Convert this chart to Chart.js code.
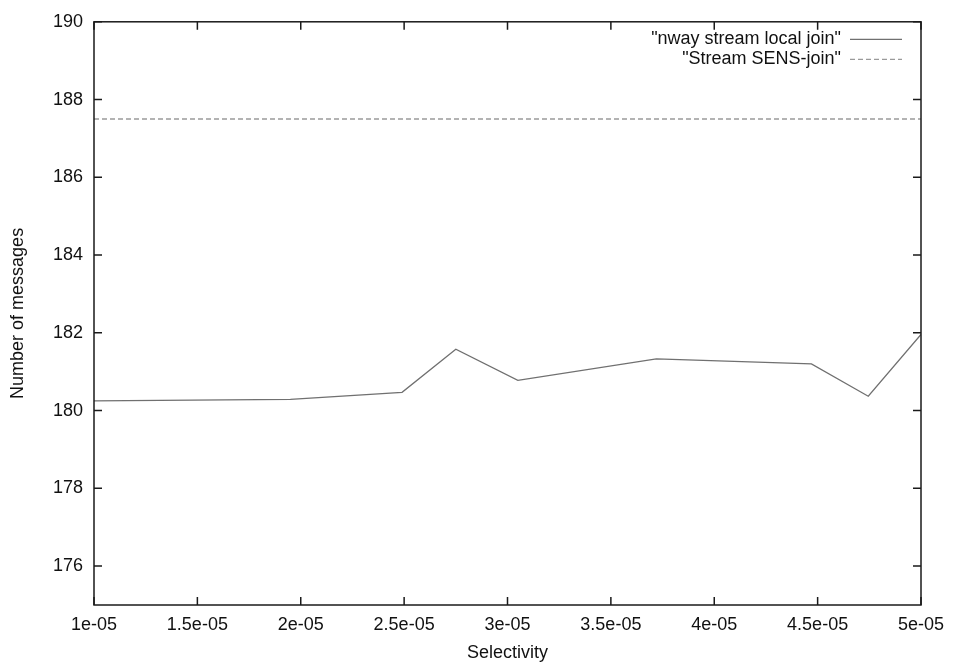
<!DOCTYPE html>
<html>
<head>
<meta charset="utf-8">
<script src="https://cdn.jsdelivr.net/npm/chart.js@4/dist/chart.umd.min.js"></script>
<style>
  html, body { margin: 0; padding: 0; background: #fff; }
  #wrap { width: 954px; height: 666px; }
</style>
</head>
<body>
<div id="wrap"><canvas id="c" width="954" height="666"></canvas></div>
<script>
// Selectivity values and message counts for the n-way local join
const selectivity = [1.0e-05, 1.95e-05, 2.49e-05, 2.75e-05, 3.05e-05, 3.72e-05, 4.47e-05, 4.745e-05, 5.0e-05];
const nwayMessages = [180.25, 180.29, 180.47, 181.58, 180.78, 181.33, 181.2, 180.37, 181.96];

// SENS-join reference level
const sensSelectivity = [1.0e-05, 5.0e-05];
const sensMessages = [187.5, 187.5];

const seriesNames = ['"nway stream local join"', '"Stream SENS-join"'];

// Axis ticks
const xTickValues = [1.0e-05, 1.5e-05, 2.0e-05, 2.5e-05, 3.0e-05, 3.5e-05, 4.0e-05, 4.5e-05, 5.0e-05];
const xTickLabels = ['1e-05', '1.5e-05', '2e-05', '2.5e-05', '3e-05', '3.5e-05', '4e-05', '4.5e-05', '5e-05'];
const yTickValues = [176, 178, 180, 182, 184, 186, 188, 190];

const FONT = 'Liberation Sans, Arial, Helvetica, sans-serif';
const FONT_SIZE = 18;
const AXIS_COLOR = '#1a1a1a';

// Frame with inward tick marks on all four sides
const framePlugin = {
  id: 'frame',
  afterDatasetsDraw(chart) {
    const {ctx, chartArea: a, scales} = chart;
    const len = 8;
    ctx.save();
    ctx.strokeStyle = AXIS_COLOR;
    ctx.lineWidth = 1.5;
    ctx.setLineDash([]);
    ctx.strokeRect(a.left, a.top, a.right - a.left, a.bottom - a.top);
    ctx.beginPath();
    xTickValues.forEach(v => {
      const px = scales.x.getPixelForValue(v);
      ctx.moveTo(px, a.bottom); ctx.lineTo(px, a.bottom - len);
      ctx.moveTo(px, a.top); ctx.lineTo(px, a.top + len);
    });
    yTickValues.forEach(v => {
      const py = scales.y.getPixelForValue(v);
      ctx.moveTo(a.left, py); ctx.lineTo(a.left + len, py);
      ctx.moveTo(a.right, py); ctx.lineTo(a.right - len, py);
    });
    ctx.stroke();
    ctx.restore();
  }
};

// Key in the upper right corner, text right-aligned with line samples
const keyPlugin = {
  id: 'key',
  afterDraw(chart) {
    const {ctx, chartArea: a} = chart;
    const textRight = a.right - 80;
    const sampleStart = a.right - 71;
    const sampleEnd = a.right - 19;
    ctx.save();
    ctx.font = FONT_SIZE + 'px ' + FONT;
    ctx.textAlign = 'right';
    ctx.textBaseline = 'middle';
    chart.data.datasets.forEach((ds, i) => {
      const y = a.top + 17 + i * 20;
      ctx.fillStyle = '#111111';
      ctx.fillText(ds.label, textRight, y);
      ctx.strokeStyle = ds.borderColor;
      ctx.lineWidth = ds.borderWidth;
      ctx.setLineDash(ds.borderDash || []);
      ctx.beginPath();
      ctx.moveTo(sampleStart, y + 0.5);
      ctx.lineTo(sampleEnd, y + 0.5);
      ctx.stroke();
    });
    ctx.restore();
  }
};

new Chart(document.getElementById('c'), {
  type: 'line',
  data: {
    datasets: [
      {
        label: seriesNames[0],
        data: selectivity.map((x, i) => ({x: x, y: nwayMessages[i]})),
        borderColor: '#707070',
        borderWidth: 1.3,
        pointRadius: 0,
        tension: 0,
        fill: false
      },
      {
        label: seriesNames[1],
        data: sensSelectivity.map((x, i) => ({x: x, y: sensMessages[i]})),
        borderColor: '#9a9a9a',
        borderWidth: 1.3,
        borderDash: [5, 3],
        pointRadius: 0,
        tension: 0,
        fill: false
      }
    ]
  },
  options: {
    responsive: false,
    animation: false,
    events: [],
    layout: { autoPadding: false, padding: { top: 20, right: 33, left: 0, bottom: 0 } },
    plugins: { legend: { display: false }, tooltip: { enabled: false } },
    scales: {
      x: {
        type: 'linear',
        min: 1.0e-05,
        max: 5.0e-05,
        grid: { display: false, drawTicks: false },
        border: { display: false },
        afterFit(scale) { scale.height = 61; },
        afterBuildTicks(scale) { scale.ticks = xTickValues.map(v => ({value: v})); },
        ticks: {
          padding: 9,
          maxRotation: 0,
          autoSkip: false,
          color: '#111111',
          font: { family: FONT, size: FONT_SIZE },
          callback: (v) => {
            const i = xTickValues.findIndex(t => Math.abs(t - v) < 1e-12);
            return i >= 0 ? xTickLabels[i] : '';
          }
        },
        title: {
          display: true,
          text: 'Selectivity',
          color: '#111111',
          font: { family: FONT, size: FONT_SIZE },
          padding: { top: 0, bottom: 2 }
        }
      },
      y: {
        min: 175,
        max: 190,
        grid: { display: false, drawTicks: false },
        border: { display: false },
        afterFit(scale) { scale.width = 94; },
        afterBuildTicks(scale) { scale.ticks = yTickValues.map(v => ({value: v})); },
        ticks: {
          padding: 11,
          autoSkip: false,
          color: '#111111',
          font: { family: FONT, size: FONT_SIZE },
          callback: (v) => String(v)
        },
        title: {
          display: true,
          text: 'Number of messages',
          color: '#111111',
          font: { family: FONT, size: FONT_SIZE },
          padding: { top: 7, bottom: 0 }
        }
      }
    }
  },
  plugins: [framePlugin, keyPlugin]
});
</script>
</body>
</html>
